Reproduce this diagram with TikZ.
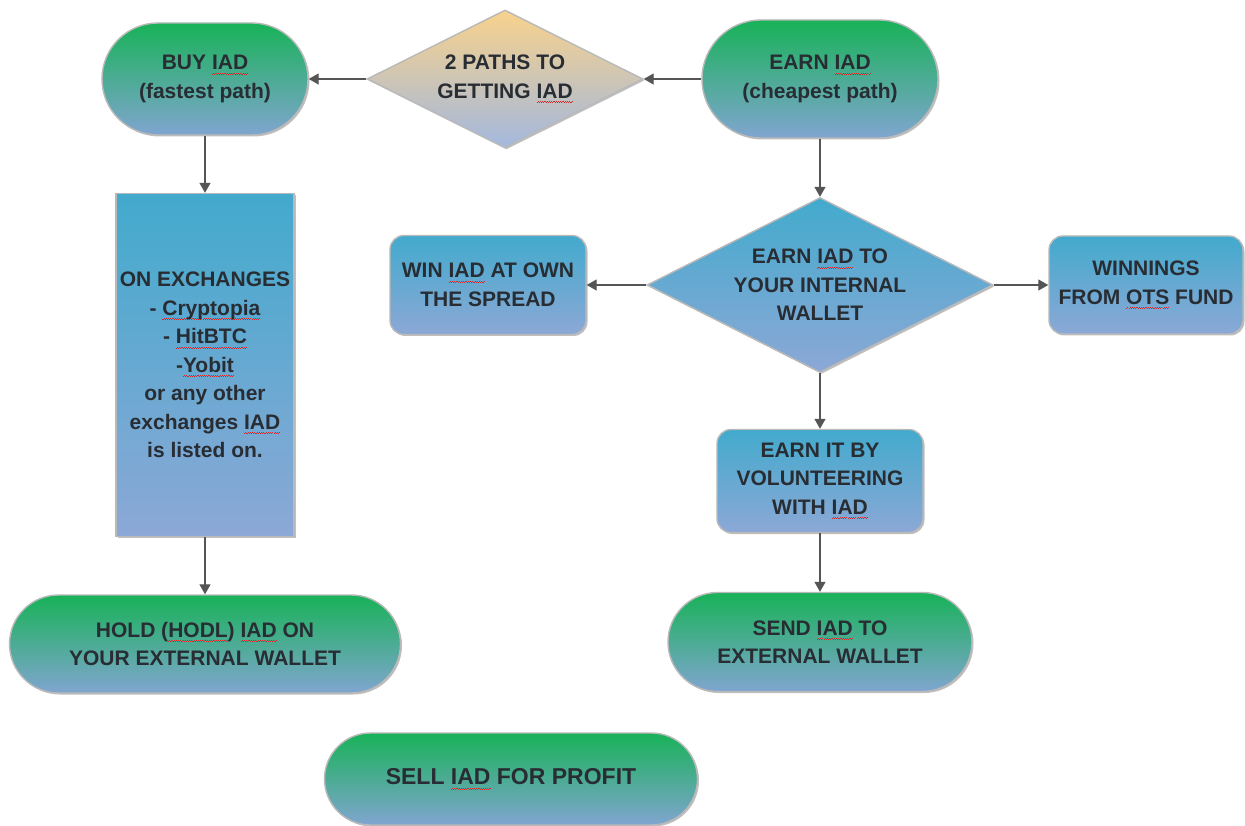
\documentclass[tikz,border=0pt]{standalone}
\usepackage{fontspec}
\setmainfont{Liberation Sans}
\usetikzlibrary{shapes.geometric,shapes.misc,arrows.meta,shadows}
\definecolor{sqred}{RGB}{215,40,40}
\definecolor{txt}{RGB}{40,45,52}
\definecolor{greentop}{RGB}{24,178,88}
\definecolor{greenbot}{RGB}{128,165,208}
\definecolor{bluetop}{RGB}{66,170,205}
\definecolor{bluebot}{RGB}{140,168,214}
\definecolor{goldtop}{RGB}{248,210,140}
\definecolor{goldbot}{RGB}{163,184,222}
\definecolor{rim}{RGB}{185,185,185}
\definecolor{arr}{RGB}{85,85,85}
\newcommand\sq[1]{\leavevmode\setbox0\hbox{#1}\rlap{\color{sqred}\hbox to\wd0{\xleaders\hbox{\rule[-4.6pt]{1.1pt}{0.7pt}\rule[-3.5pt]{1.1pt}{0.7pt}}\hfil}}\box0\relax}
\tikzset{
  base/.style={draw=rim, line width=1.4pt, align=center, text=txt,
    font=\fontsize{21}{28.5}\selectfont\bfseries, inner sep=0pt,
    drop shadow={shadow xshift=1.5pt, shadow yshift=-1.5pt, opacity=0.25, fill=black}},
  stadium/.style={base, rounded rectangle, top color=greentop, bottom color=greenbot},
  bluebox/.style={base, rectangle, rounded corners=14pt, top color=bluetop, bottom color=bluebot},
  tallbox/.style={base, rectangle, top color=bluetop, bottom color=bluebot},
  golddia/.style={base, diamond, top color=goldtop, bottom color=goldbot},
  bluedia/.style={base, diamond, top color=bluetop, bottom color=bluebot},
  link/.style={draw=arr, line width=1.3pt, -{Triangle[length=10pt,width=11pt]}}
}
\begin{document}
\begin{tikzpicture}[x=1pt,y=-1pt]
\useasboundingbox (0,0) rectangle (1245,826);
\node[stadium, minimum width=206pt, minimum height=112pt] (buy) at (205,79) {BUY \sq{IAD}\\(fastest path)};
\node[golddia, minimum width=276pt, minimum height=138pt, aspect=2] (paths) at (505,79) {2 PATHS TO\\GETTING \sq{IAD}};
\node[stadium, minimum width=236pt, minimum height=118pt] (earn) at (820,79) {EARN \sq{IAD}\\(cheapest path)};
\node[tallbox, minimum width=178pt, minimum height=343pt] (exch) at (205,365) {ON EXCHANGES\\- \sq{Cryptopia}\\- \sq{HitBTC}\\-\sq{Yobit}\\or any other\\exchanges \sq{IAD}\\is listed on.};
\node[bluedia, minimum width=346pt, minimum height=175pt, aspect=1.98] (internal) at (820,285) {EARN \sq{IAD} TO\\YOUR INTERNAL\\WALLET};
\node[bluebox, minimum width=196pt, minimum height=99pt] (win) at (488,285) {WIN \sq{IAD} AT OWN\\THE SPREAD};
\node[bluebox, minimum width=194pt, minimum height=98pt] (ots) at (1146,285) {WINNINGS\\FROM \sq{OTS} FUND};
\node[bluebox, minimum width=206pt, minimum height=103pt] (vol) at (820,481) {EARN IT BY\\VOLUNTEERING\\WITH \sq{IAD}};
\node[stadium, minimum width=304pt, minimum height=99pt] (send) at (820,642) {SEND \sq{IAD} TO\\EXTERNAL WALLET};
\node[stadium, minimum width=391pt, minimum height=98pt] (hold) at (205,644) {HOLD (\sq{HODL}) \sq{IAD} ON\\YOUR EXTERNAL WALLET};
\node[stadium, minimum width=373pt, minimum height=92pt, font=\fontsize{23}{28.5}\selectfont\bfseries] (sell) at (511,779) {SELL \sq{IAD} FOR PROFIT};
\draw[link] (earn.west) -- (paths.east);
\draw[link] (paths.west) -- (buy.east);
\draw[link] (buy.south) -- (exch.north);
\draw[link] (exch.south) -- (hold.north);
\draw[link] (earn.south) -- (internal.north);
\draw[link] (internal.west) -- (win.east);
\draw[link] (internal.east) -- (ots.west);
\draw[link] (internal.south) -- (vol.north);
\draw[link] (vol.south) -- (send.north);
\end{tikzpicture}
\end{document}
